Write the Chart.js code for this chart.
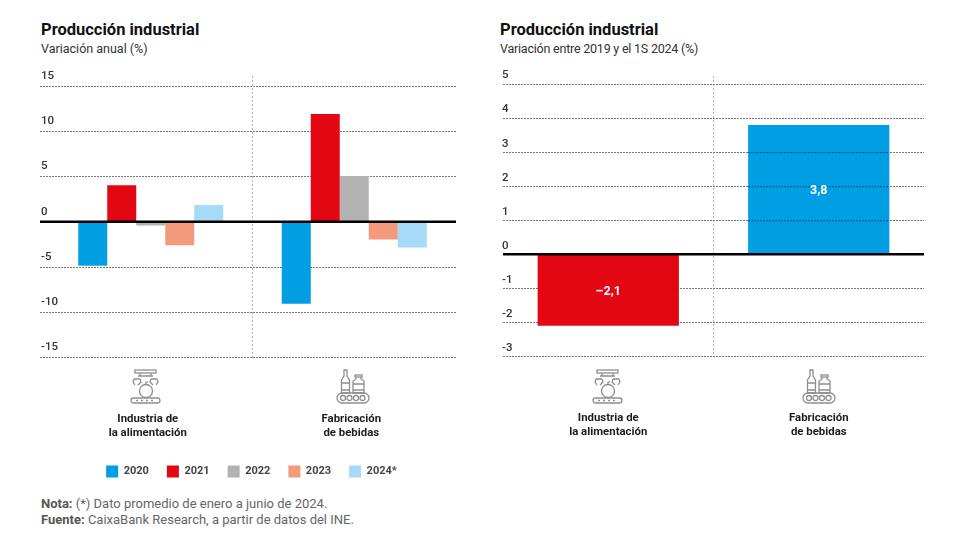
<!DOCTYPE html>
<html lang="es">
<head>
<meta charset="utf-8">
<title>Producción industrial</title>
<script src="https://cdn.jsdelivr.net/npm/chart.js@4"></script>
<style>
  html, body { margin: 0; padding: 0; background: #fff; }
  body { width: 980px; height: 560px; position: relative; overflow: hidden; font-family: Roboto, "Liberation Sans", sans-serif; color: #1d1d1b; }
  canvas { position: absolute; top: 0; }
  #leftChart { left: 0; }
  #rightChart { left: 490px; }
  .title, .sub, .note, .icon { position: absolute; white-space: nowrap; }
  .title { font-size: 16.5px; font-weight: 700; top: 20px; color: #111; }
  .sub { font-size: 12.5px; top: 41px; color: #333; }
  .note { left: 41px; font-size: 13px; color: #666; }
  .note b { color: #555; }
  .icon { top: 369px; fill: none; stroke: #8f8f8f; stroke-width: 1.3; }
</style>
</head>
<body>
<div class="title" style="left:41px">Producción industrial</div>
<div class="sub" style="left:41px">Variación anual (%)</div>
<div class="title" style="left:500px">Producción industrial</div>
<div class="sub" style="left:500px;letter-spacing:-0.22px">Variación entre 2019 y el 1S 2024 (%)</div>

<canvas id="leftChart" width="509" height="496"></canvas>
<canvas id="rightChart" width="490" height="455"></canvas>

<!-- iconos -->
<svg class="icon" style="left:130px" width="32" height="36" viewBox="0 0 32 36">
  <use href="#apple"></use>
</svg>
<svg class="icon" style="left:592px" width="32" height="36" viewBox="0 0 32 36">
  <use href="#apple"></use>
</svg>
<svg class="icon" style="left:336px" width="34" height="36" viewBox="0 0 34 36">
  <use href="#bottles"></use>
</svg>
<svg class="icon" style="left:802px" width="34" height="36" viewBox="0 0 34 36">
  <use href="#bottles"></use>
</svg>
<svg width="0" height="0" style="position:absolute">
  <defs>
    <g id="apple">
      <rect x="5" y="1" width="21" height="3"></rect>
      <path d="M10 4v3h11V4M8 7h15M4 10h6M21 10h6M4 10l-1 3 2 3M10 10l1 3-3 3M27 10l1 3-2 3M21 10l-1 3 3 3"></path>
      <circle cx="16" cy="22" r="6.5"></circle>
      <path d="M16 15.5v-2l2-1"></path>
      <rect x="1" y="29" width="29" height="5" rx="2.5"></rect>
      <path d="M6 31.5h2M11 31.5h2M16 31.5h2M21 31.5h2"></path>
    </g>
    <g id="bottles">
      <path d="M8 1h3v6l2.500 4v13h-8V11L8 7z"></path>
      <path d="M5.500 14h8M5.500 21h8"></path>
      <rect x="19" y="6" width="7" height="2"></rect>
      <path d="M20 8v2l-3 2v12h11V12l-3-2V8"></path>
      <path d="M17 15h11M17 21h11"></path>
      <rect x="1" y="24" width="32" height="10" rx="5"></rect>
      <circle cx="7" cy="29" r="2.500"></circle>
      <circle cx="13.500" cy="29" r="2.500"></circle>
      <circle cx="20" cy="29" r="2.500"></circle>
      <circle cx="26.500" cy="29" r="2.500"></circle>
    </g>
  </defs>
</svg>

<div class="note" style="top:496px"><b>Nota:</b> (*) Dato promedio de enero a junio de 2024.</div>
<div class="note" style="top:512px"><b>Fuente:</b> CaixaBank Research, a partir de datos del INE.</div>

<script>
const categories = [['Industria de', 'la alimentación'], ['Fabricación', 'de bebidas']];

// variación anual
const years = ['2020', '2021', '2022', '2023', '2024*'];
const values2020 = [-4.85, -9.05];
const values2021 = [4.05, 11.9];
const values2022 = [-0.4, 5.05];
const values2023 = [-2.6, -1.95];
const values2024 = [1.85, -2.85];
const yearColors = ['#009fe3', '#e30613', '#b2b2b2', '#f39a7d', '#a5daf8'];

// variación 2019 - 1S 2024
const totalValues = [-2.1, 3.8];
const totalColors = ['#e30613', '#009fe3'];

const gridColor = '#777';
const labelFont = { family: 'Roboto, "Liberation Sans", sans-serif', size: 11.5, weight: '500' };
const boldFont = { family: 'Roboto, "Liberation Sans", sans-serif', size: 11, weight: '700' };
const categoryFont = { family: 'Roboto, "Liberation Sans", sans-serif', size: 11.4, weight: '700' };

// linea del cero por encima de las barras, y la rejilla sobre las barras azules
const overlayPlugin = {
    id: 'overlay',
    afterDatasetsDraw(chart, args, opts) {
        const ctx = chart.ctx;
        const y = chart.scales.y;
        const area = chart.chartArea;
        ctx.save();
        if (opts.gridOverBars) {
            const bars = chart.getDatasetMeta(0).data;
            bars.forEach((bar, i) => {
                if (totalColors[i] !== '#009fe3') return;
                y.ticks.forEach(t => {
                    const py = y.getPixelForValue(t.value);
                    if (t.value === 0 || py < bar.y || py > bar.base) return;
                    ctx.strokeStyle = 'rgba(0,50,90,0.75)';
                    ctx.lineWidth = 1;
                    ctx.setLineDash([2, 1]);
                    ctx.beginPath();
                    ctx.moveTo(bar.x - bar.width / 2, py + 0.5);
                    ctx.lineTo(bar.x + bar.width / 2, py + 0.5);
                    ctx.stroke();
                });
            });
        }
        ctx.setLineDash([]);
        ctx.strokeStyle = '#000';
        ctx.lineWidth = 2.5;
        ctx.beginPath();
        const zero = y.getPixelForValue(0);
        ctx.moveTo(area.left - opts.zeroExtra, zero);
        ctx.lineTo(area.right, zero);
        ctx.stroke();
        ctx.restore();
    }
};

// formato con coma decimal y raya en negativos
function formatValue(v) {
    return (v < 0 ? '–' : '') + Math.abs(v).toFixed(1).replace('.', ',');
}

const barLabelPlugin = {
    id: 'barLabel',
    afterDraw(chart) {
        const ctx = chart.ctx;
        const meta = chart.getDatasetMeta(0);
        ctx.save();
        ctx.fillStyle = '#fff';
        ctx.font = '700 12.5px Roboto, "Liberation Sans", sans-serif';
        ctx.textAlign = 'center';
        ctx.textBaseline = 'middle';
        meta.data.forEach((bar, i) => {
            ctx.fillText(formatValue(totalValues[i]), bar.x, (bar.y + bar.base) / 2 + 1.5);
        });
        ctx.restore();
    }
};

function xAxis(labelOffset) {
    return {
        afterFit(scale) { scale.height = 90; },
        border: { display: false, dash: [2, 2] },
        grid: {
            drawTicks: false,
            lineWidth: 1,
            color: ctx => ctx.index === 1 ? '#b5b5b5' : 'rgba(0,0,0,0)'
        },
        ticks: { color: '#1d1d1b', font: categoryFont, padding: 55, maxRotation: 0, autoSkip: false, labelOffset: labelOffset }
    };
}

function yAxis(min, max, step, axisWidth, tickLength, padding, labelOffset) {
    return {
        min: min,
        max: max,
        afterFit(scale) { scale.width = axisWidth; },
        border: { display: false, dash: [2, 1] },
        grid: { color: gridColor, tickLength: tickLength, drawTicks: tickLength > 0, tickBorderDash: [2, 1], tickColor: gridColor },
        ticks: {
            stepSize: step,
            includeBounds: false,
            mirror: true,
            padding: padding,
            labelOffset: labelOffset,
            color: '#333',
            font: labelFont
        }
    };
}

const yearSeries = [values2020, values2021, values2022, values2023, values2024];

new Chart(document.getElementById('leftChart'), {
    type: 'bar',
    data: {
        labels: categories,
        datasets: years.map((year, i) => ({
            label: year,
            data: yearSeries[i],
            backgroundColor: yearColors[i],
            categoryPercentage: 0.7125,
            barPercentage: 1
        }))
    },
    options: {
        responsive: false,
        animation: false,
        layout: { padding: { left: 47, right: 53, top: 76, bottom: 8.5 } },
        scales: {
            x: xAxis(-3),
            y: yAxis(-15, 16.11, 5, 2, 9, -8, -10)
        },
        plugins: {
            tooltip: { enabled: false },
            overlay: { zeroExtra: 9 },
            legend: {
                position: 'bottom',
                labels: { boxWidth: 12, boxHeight: 12, padding: 18, color: '#444', font: boldFont }
            }
        }
    },
    plugins: [overlayPlugin]
});

new Chart(document.getElementById('rightChart'), {
    type: 'bar',
    data: {
        labels: categories,
        datasets: [{
            label: 'Variación entre 2019 y el 1S 2024',
            data: totalValues,
            backgroundColor: totalColors,
            categoryPercentage: 1,
            barPercentage: 0.671
        }]
    },
    options: {
        responsive: false,
        animation: false,
        layout: { padding: { left: 13, right: 56, top: 76, bottom: 8.5 } },
        scales: {
            x: xAxis(0),
            y: yAxis(-3, 5.235, 1, 0, 0, -1, -8.5)
        },
        plugins: {
            tooltip: { enabled: false },
            legend: { display: false },
            overlay: { zeroExtra: 0, gridOverBars: true }
        }
    },
    plugins: [overlayPlugin, barLabelPlugin]
});
</script>
</body>
</html>
